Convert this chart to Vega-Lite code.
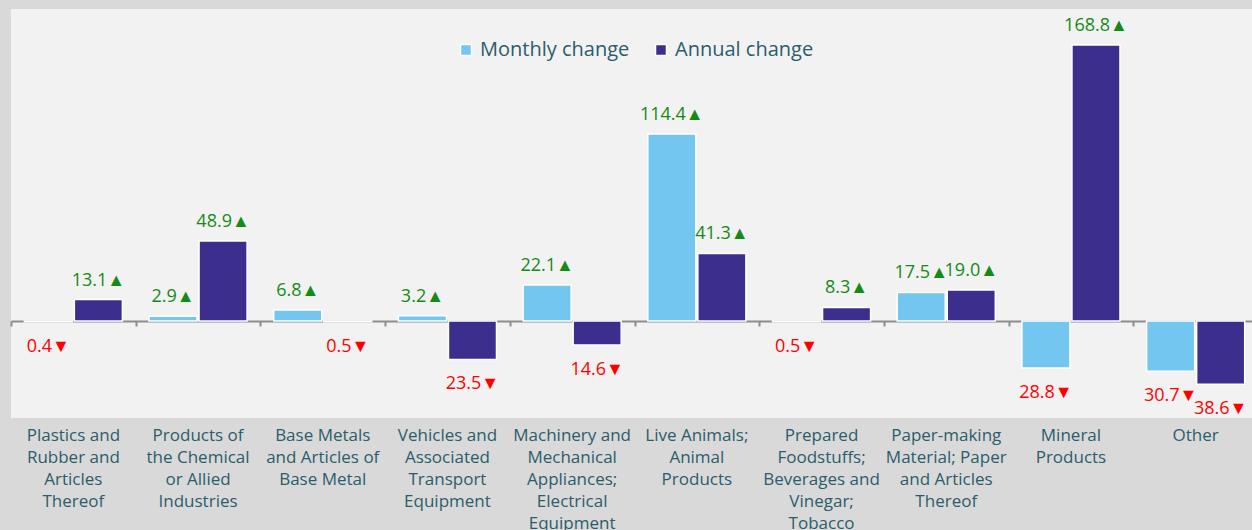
{
  "$schema": "https://vega.github.io/schema/vega-lite/v6.json",
  "width": 1247,
  "height": 409,
  "autosize": {"type": "none"},
  "padding": {"left": 11, "top": 9, "right": 0, "bottom": 112},
  "background": "#d9d9d9",
  "config": {
    "view": {"stroke": null, "fill": "#f2f2f2"},
    "font": "Open Sans"
  },
  "data": {
    "values": [
      {"category": "Plastics and|Rubber and|Articles|Thereof", "series": "Monthly change", "value": -0.4},
      {"category": "Plastics and|Rubber and|Articles|Thereof", "series": "Annual change", "value": 13.1},
      {"category": "Products of|the Chemical|or Allied|Industries", "series": "Monthly change", "value": 2.9},
      {"category": "Products of|the Chemical|or Allied|Industries", "series": "Annual change", "value": 48.9},
      {"category": "Base Metals|and Articles of|Base Metal", "series": "Monthly change", "value": 6.8},
      {"category": "Base Metals|and Articles of|Base Metal", "series": "Annual change", "value": -0.5},
      {"category": "Vehicles and|Associated|Transport|Equipment", "series": "Monthly change", "value": 3.2},
      {"category": "Vehicles and|Associated|Transport|Equipment", "series": "Annual change", "value": -23.5},
      {"category": "Machinery and|Mechanical|Appliances;|Electrical|Equipment", "series": "Monthly change", "value": 22.1},
      {"category": "Machinery and|Mechanical|Appliances;|Electrical|Equipment", "series": "Annual change", "value": -14.6},
      {"category": "Live Animals;|Animal|Products", "series": "Monthly change", "value": 114.4},
      {"category": "Live Animals;|Animal|Products", "series": "Annual change", "value": 41.3},
      {"category": "Prepared|Foodstuffs;|Beverages and|Vinegar;|Tobacco", "series": "Monthly change", "value": -0.5},
      {"category": "Prepared|Foodstuffs;|Beverages and|Vinegar;|Tobacco", "series": "Annual change", "value": 8.3},
      {"category": "Paper-making|Material; Paper|and Articles|Thereof", "series": "Monthly change", "value": 17.5},
      {"category": "Paper-making|Material; Paper|and Articles|Thereof", "series": "Annual change", "value": 19.0},
      {"category": "Mineral|Products", "series": "Monthly change", "value": -28.8},
      {"category": "Mineral|Products", "series": "Annual change", "value": 168.8},
      {"category": "Other", "series": "Monthly change", "value": -30.7},
      {"category": "Other", "series": "Annual change", "value": -38.6}
    ]
  },
  "transform": [
    {"calculate": "format(abs(datum.value), '.1f') + (datum.value >= 0 ? '▲' : '▼')", "as": "label"}
  ],
  "encoding": {
    "x": {
      "field": "category",
      "type": "nominal",
      "sort": null,
      "scale": {"paddingInner": 0, "paddingOuter": 0}
    },
    "xOffset": {
      "field": "series",
      "type": "nominal",
      "sort": ["Monthly change", "Annual change"],
      "scale": {"paddingInner": 0.04, "paddingOuter": 0.266}
    },
    "y": {
      "field": "value",
      "type": "quantitative",
      "scale": {"domain": [-59.3, 190.8], "nice": false, "zero": false},
      "axis": null
    }
  },
  "layer": [
    {
      "mark": {"type": "bar", "stroke": "white", "strokeWidth": 1.5},
      "encoding": {
        "x": {
          "field": "category",
          "type": "nominal",
          "sort": null,
          "axis": {
            "orient": "bottom",
            "title": null,
            "labels": false,
            "offset": -97,
            "domainColor": "#8c8c8c",
            "domainWidth": 2,
            "tickColor": "#8c8c8c",
            "tickWidth": 2,
            "tickSize": 5,
            "tickBand": "extent",
            "grid": false
          }
        },
        "color": {
          "field": "series",
          "type": "nominal",
          "scale": {"domain": ["Monthly change", "Annual change"], "range": ["#73c6ef", "#3b2e8c"]},
          "legend": {
            "title": null,
            "orient": "none",
            "direction": "horizontal",
            "legendX": 445,
            "legendY": 31,
            "symbolType": "square",
            "symbolSize": 120,
            "symbolStrokeColor": "white",
            "symbolStrokeWidth": 1.5,
            "labelFontSize": 20,
            "labelColor": "#2b5d6b",
            "labelFont": "Open Sans",
            "columnPadding": 21,
            "symbolOpacity": 1
          }
        }
      }
    },
    {
      "transform": [{"filter": "datum.value >= 0"}],
      "mark": {"type": "text", "baseline": "alphabetic", "dy": -14, "fontSize": 18, "color": "#168a16"},
      "encoding": {
        "x": {
          "field": "category",
          "type": "nominal",
          "sort": null,
          "axis": {
            "orient": "bottom",
            "title": null,
            "domain": false,
            "ticks": false,
            "grid": false,
            "labelAngle": 0,
            "labelFontSize": 17,
            "labelColor": "#2b5d6b",
            "labelPadding": 9,
            "labelLineHeight": 22,
            "labelBaseline": "top",
            "labelExpr": "split(datum.label, '|')",
            "labelLimit": 200
          }
        },
        "text": {"field": "label"}
      }
    },
    {
      "transform": [{"filter": "datum.value < 0"}],
      "mark": {"type": "text", "baseline": "alphabetic", "dy": 30, "fontSize": 18, "color": "#ff0000"},
      "encoding": {
        "x": {"field": "category", "type": "nominal", "sort": null, "axis": null},
        "text": {"field": "label"}
      }
    }
  ],
  "resolve": {"axis": {"x": "independent"}}
}
